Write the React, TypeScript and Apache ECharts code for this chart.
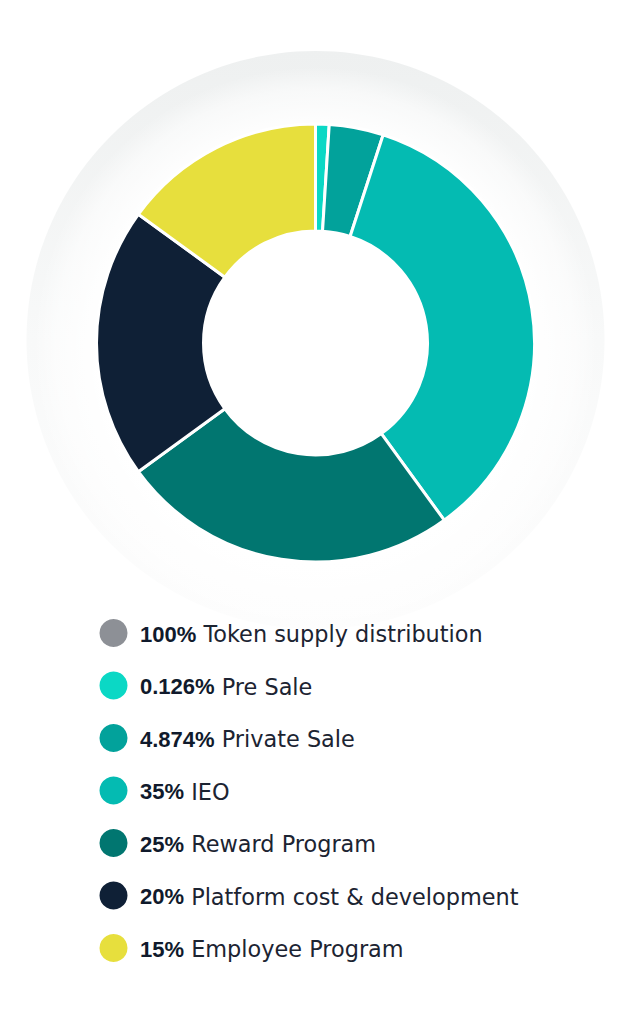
import React, { useEffect, useRef } from "react";
import * as echarts from "echarts";

const categories = ["Pre Sale", "Private Sale", "IEO", "Reward Program", "Platform cost & development", "Employee Program"];
// slice sizes as drawn in the picture (the tiny pre-sale slice is drawn enlarged)
const sliceValues = [1, 4, 35, 25, 20, 15];
const legendPercents = ["0.126%", "4.874%", "35%", "25%", "20%", "15%"];
const sliceColors = ["#0bd8c5", "#02a29b", "#04bbb2", "#017670", "#0f2036", "#e7df3d"];
const totalPercent = "100%";
const totalName = "Token supply distribution";
const totalColor = "#8d9096";

export default function App() {
  const ref = useRef<HTMLDivElement>(null);
  useEffect(() => {
    if (!ref.current) return;
    const chart = echarts.init(ref.current, undefined, { renderer: "svg" });
    const legendItems = [
      { pct: totalPercent, name: totalName, color: totalColor },
      ...categories.map((c, i) => ({ pct: legendPercents[i], name: c, color: sliceColors[i] })),
    ];
    const graphics: any[] = [
      {
        type: "circle",
        z: 0,
        silent: true,
        shape: { cx: 315.5, cy: 340, r: 289 },
        style: {
          fill: {
            type: "linear",
            x: 0,
            y: 0,
            x2: 0,
            y2: 1,
            colorStops: [
              { offset: 0, color: "#eef0f0" },
              { offset: 0.5, color: "#f8f9f9" },
              { offset: 1, color: "#fdfdfd" },
            ],
          },
        },
      },
      {
        type: "circle",
        z: 0,
        silent: true,
        shape: { cx: 315.5, cy: 349, r: 282 },
        style: {
          fill: {
            type: "radial",
            x: 0.5,
            y: 0.5,
            r: 0.5,
            colorStops: [
              { offset: 0, color: "rgba(255,255,255,1)" },
              { offset: 0.76, color: "rgba(255,255,255,1)" },
              { offset: 0.92, color: "rgba(255,255,255,0.55)" },
              { offset: 1, color: "rgba(255,255,255,0)" },
            ],
          },
        },
      },
    ];
    legendItems.forEach((it, i) => {
      const y = 633 + i * 52.5;
      graphics.push({
        type: "circle",
        silent: true,
        shape: { cx: 113.5, cy: y, r: 14 },
        style: { fill: it.color },
      });
      graphics.push({
        type: "text",
        silent: true,
        x: 140,
        y: y + 1,
        style: {
          text: `{b|${it.pct}}{r| ${it.name}}`,
          verticalAlign: "middle",
          align: "left",
          rich: {
            b: { fontFamily: "Liberation Sans", fontSize: 22, fontWeight: "bold", fill: "#101a2c", color: "#101a2c" },
            r: { fontFamily: "DejaVu Sans", fontSize: 22.4, fontWeight: "normal", fill: "#1c2432", color: "#1c2432" },
          },
        },
      });
    });
    chart.setOption({
      animation: false,
      backgroundColor: "#ffffff",
      graphic: graphics,
      series: [
        {
          type: "pie",
          center: [315.5, 343],
          radius: [112, 219],
          startAngle: 90,
          clockwise: true,
          silent: true,
          label: { show: false },
          labelLine: { show: false },
          itemStyle: { borderColor: "#ffffff", borderWidth: 3 },
          emphasis: { disabled: true },
          data: categories.map((c, i) => ({
            name: c,
            value: sliceValues[i],
            itemStyle: { color: sliceColors[i] },
          })),
        },
      ],
    });
    return () => chart.dispose();
  }, []);
  return (
    <div
      ref={ref}
      style={{ position: "absolute", left: 0, top: 0, width: 637, height: 1024, background: "#fff" }}
    />
  );
}
